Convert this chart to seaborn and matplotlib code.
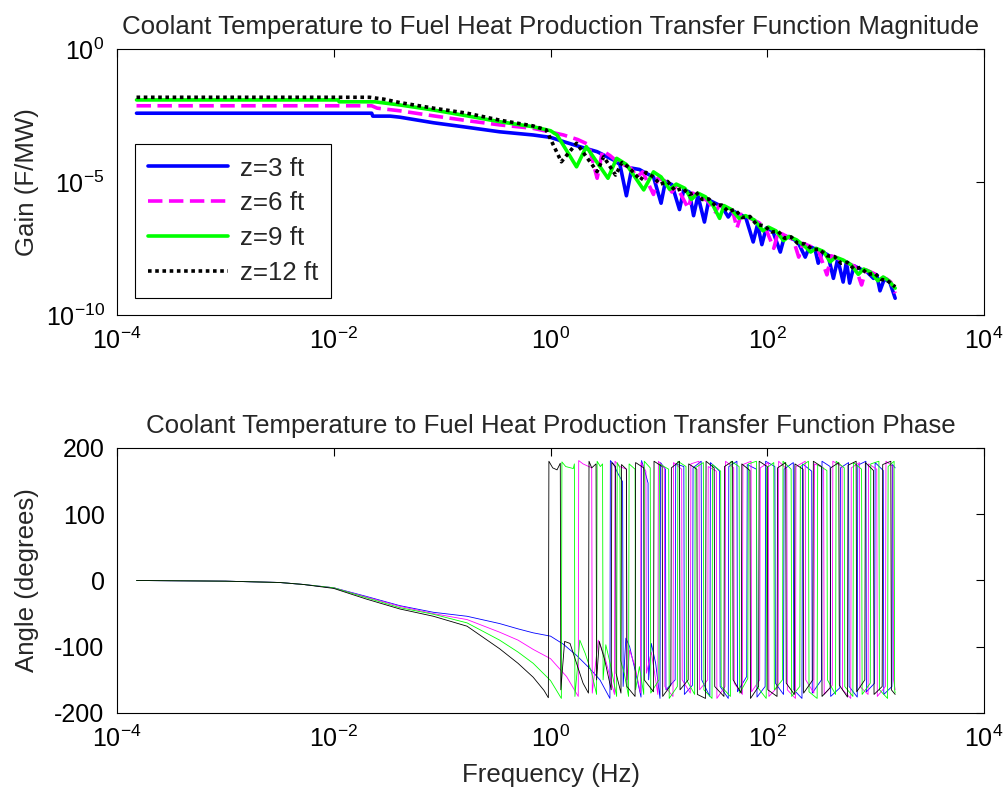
import numpy as np
import matplotlib
matplotlib.use("Agg")
import matplotlib.pyplot as plt
import seaborn as sns

# ---- magnitude data (log10 Hz, log10 F/MW) ----
mag_f_z3 = [-3.82, -1.65, -1.64, -1.48, -1.39, -1.08, -0.77, -0.47, -0.16, 0.00, 0.12, 0.27, 0.43, 0.58, 0.64,
            0.70, 0.75, 0.82, 0.88, 0.95, 1.02, 1.06, 1.12, 1.19, 1.23, 1.28, 1.32, 1.36, 1.42, 1.46, 1.52, 1.58,
            1.64, 1.68, 1.74, 1.80, 1.87, 1.91, 1.95, 1.99, 2.05, 2.12, 2.16, 2.22, 2.28, 2.35, 2.39, 2.44, 2.47,
            2.51, 2.56, 2.61, 2.65, 2.70, 2.73, 2.76, 2.80, 2.86, 2.92, 2.98, 3.01, 3.04, 3.08, 3.13, 3.18]
mag_z3 = [-2.40, -2.40, -2.51, -2.51, -2.55, -2.76, -2.93, -3.10, -3.22, -3.31, -3.47, -3.66, -3.85, -4.16, -4.33,
          -5.51, -4.47, -4.52, -4.66, -4.80, -5.79, -4.97, -5.09, -6.03, -5.27, -5.37, -6.26, -5.51, -6.50, -5.67,
          -5.79, -5.91, -6.31, -6.07, -6.21, -6.31, -7.25, -6.59, -7.35, -6.73, -6.83, -7.63, -7.02, -7.11, -7.23,
          -7.82, -7.42, -7.51, -8.05, -7.63, -7.74, -8.62, -7.89, -8.76, -8.00, -8.80, -8.15, -8.27, -8.38, -8.62,
          -8.49, -9.09, -8.64, -8.76, -9.37]

mag_f_z6 = [-3.82, -1.65, -1.60, -1.39, -1.08, -0.77, -0.47, -0.16, 0.00, 0.12, 0.25, 0.35, 0.43, 0.48, 0.55,
            0.62, 0.68, 0.74, 0.80, 0.85, 0.95, 0.99, 1.05, 1.12, 1.16, 1.27, 1.31, 1.38, 1.45, 1.52, 1.56, 1.62,
            1.68, 1.72, 1.76, 1.84, 1.92, 1.98, 2.06, 2.10, 2.18, 2.24, 2.29, 2.33, 2.40, 2.47, 2.55, 2.59, 2.66,
            2.74, 2.81, 2.87, 2.91, 2.98, 3.05, 3.10, 3.14, 3.18]
mag_z6 = [-2.12, -2.12, -2.21, -2.31, -2.50, -2.68, -2.84, -2.97, -3.11, -3.22, -3.39, -3.58, -4.85, -3.81, -4.00,
          -4.24, -4.35, -4.47, -4.80, -4.61, -5.46, -4.85, -4.94, -5.37, -5.13, -5.98, -5.41, -5.54, -5.70, -6.12,
          -5.86, -5.98, -6.07, -6.73, -6.21, -6.36, -6.52, -6.69, -7.49, -6.87, -7.04, -7.16, -7.82, -7.30, -7.42,
          -7.55, -8.49, -7.77, -7.89, -8.05, -8.17, -8.87, -8.30, -8.43, -8.57, -8.64, -8.76, -9.18]

mag_f_z9 = [-3.82, -1.96, -1.95, -1.62, -1.39, -1.08, -0.77, -0.47, -0.16, 0.00, 0.06, 0.24, 0.33, 0.53, 0.61,
            0.70, 0.86, 0.95, 1.02, 1.10, 1.16, 1.24, 1.30, 1.36, 1.43, 1.50, 1.56, 1.60, 1.67, 1.74, 1.80, 1.88,
            1.96, 2.01, 2.08, 2.15, 2.20, 2.27, 2.34, 2.40, 2.45, 2.52, 2.58, 2.63, 2.70, 2.77, 2.84, 2.89, 2.95,
            3.02, 3.07, 3.12, 3.18]
mag_z9 = [-1.90, -1.90, -1.97, -1.97, -2.09, -2.28, -2.50, -2.72, -2.91, -3.06, -3.22, -4.42, -3.66, -4.85, -4.10,
          -4.33, -5.29, -4.61, -4.80, -5.27, -5.07, -5.23, -5.65, -5.41, -5.55, -5.88, -6.36, -5.88, -6.03, -6.36,
          -6.26, -6.42, -6.83, -6.69, -6.83, -7.20, -7.04, -7.17, -7.39, -7.63, -7.49, -7.61, -8.00, -7.82, -7.93,
          -8.10, -8.47, -8.27, -8.38, -8.71, -8.57, -8.71, -8.99]

mag_f_z12 = [-3.82, -1.67, -1.54, -1.39, -1.08, -0.77, -0.47, -0.16, -0.04, 0.10, 0.24, 0.43, 0.49, 0.60, 0.66,
             0.72, 0.83, 0.88, 0.95, 1.01, 1.08, 1.15, 1.22, 1.28, 1.34, 1.40, 1.46, 1.52, 1.58, 1.64, 1.70, 1.77,
             1.84, 1.90, 1.97, 2.04, 2.10, 2.16, 2.22, 2.28, 2.35, 2.42, 2.48, 2.55, 2.62, 2.68, 2.74, 2.80, 2.86,
             2.93, 2.99, 3.05, 3.11, 3.18]
mag_z12 = [-1.80, -1.80, -1.87, -2.00, -2.21, -2.40, -2.66, -2.88, -3.03, -4.23, -3.53, -4.60, -4.04, -4.73, -4.26,
           -4.43, -4.92, -4.63, -4.80, -5.08, -4.97, -5.32, -5.23, -5.46, -5.37, -5.65, -5.63, -5.88, -5.86, -6.10,
           -6.03, -6.33, -6.29, -6.59, -6.64, -6.87, -6.85, -7.11, -7.06, -7.30, -7.33, -7.53, -7.53, -7.77, -7.80,
           -8.05, -8.02, -8.27, -8.21, -8.47, -8.43, -8.66, -8.71, -8.94]

# ---- phase data, (log10 Hz, degrees) ----
phase_z3 = [(-3.82, 0), (-3.00, -1), (-2.50, -3), (-2.28, -6), (-2.00, -11), (-1.70, -24), (-1.39, -38),
            (-1.08, -48), (-0.77, -54), (-0.47, -65), (-0.30, -73), (-0.16, -79), (0.00, -84), (0.117, -96),
            (0.24, -113), (0.363, -133), (0.456, -150), (0.548, -178), (0.552, 181), (0.58, 176), (0.62, 162),
            (0.665, 149), (0.67, -160), (0.695, -87), (0.73, -100), (0.78, -135), (0.835, -176), (0.84, 181),
            (0.87, 165), (0.90, 147), (0.905, -150), (0.93, -95), (0.97, -125), (1.01, -178), (1.015, 178),
            (1.06, 168), (1.065, -165), (1.15, -150), (1.155, 176), (1.23, 172), (1.235, -172), (1.31, -158),
            (1.315, 170), (1.39, 180), (1.395, -150), (1.47, -175), (1.475, 178), (1.56, 165), (1.565, -160),
            (1.64, -178), (1.645, 172), (1.72, 180), (1.725, -168), (1.81, -145), (1.815, 175), (1.90, 168),
            (1.905, -176), (1.98, -160), (1.985, 180), (2.07, 172), (2.075, -155), (2.15, -172), (2.155, 168),
            (2.24, 178), (2.245, -165), (2.32, -178), (2.325, 176), (2.41, 165), (2.415, -170), (2.50, -150),
            (2.505, 180), (2.58, 172), (2.585, -175), (2.67, -162), (2.675, 170), (2.75, 178), (2.755, -160),
            (2.83, -176), (2.835, 174), (2.91, 180), (2.915, -168), (2.99, -155), (2.995, 178), (3.07, 166),
            (3.075, -172), (3.15, -160), (3.155, 175), (3.18, 170)]

phase_z6 = [(-3.82, 0), (-3.00, -1), (-2.50, -3), (-2.28, -6), (-2.00, -11), (-1.70, -25), (-1.39, -39),
            (-1.08, -50), (-0.77, -59), (-0.47, -78), (-0.30, -90), (-0.16, -104), (0.00, -118), (0.148, -145),
            (0.256, -175), (0.26, 181), (0.30, 176), (0.38, 170), (0.385, -170), (0.44, -90), (0.50, -115),
            (0.59, -172), (0.595, 180), (0.64, 172), (0.70, 168), (0.705, -150), (0.73, -105), (0.78, -130),
            (0.83, -170), (0.835, 178), (0.88, 165), (0.885, -140), (0.93, -108), (0.97, -150), (0.99, -172),
            (0.995, 180), (1.05, 170), (1.055, -160), (1.13, -175), (1.135, 178), (1.21, 168), (1.215, -150),
            (1.29, -170), (1.295, 176), (1.37, 180), (1.375, -165), (1.45, -150), (1.455, 172), (1.53, 165),
            (1.535, -178), (1.61, -160), (1.615, 180), (1.69, 170), (1.695, -155), (1.77, -172), (1.775, 175),
            (1.85, 180), (1.855, -168), (1.93, -150), (1.935, 170), (2.01, 178), (2.015, -175), (2.10, -160),
            (2.105, 180), (2.18, 168), (2.185, -165), (2.26, -178), (2.265, 172), (2.35, 180), (2.355, -150),
            (2.43, -170), (2.435, 176), (2.52, 170), (2.525, -172), (2.60, -158), (2.605, 180), (2.69, 172),
            (2.695, -165), (2.77, -178), (2.775, 170), (2.85, 178), (2.855, -160), (2.93, -172), (2.935, 176),
            (3.01, 168), (3.015, -175), (3.09, -160), (3.095, 180), (3.16, 172), (3.165, -150), (3.18, -165)]

phase_z9 = [(-3.82, 0), (-3.00, -1), (-2.50, -3), (-2.28, -6), (-2.00, -11), (-1.70, -26), (-1.39, -41),
            (-1.08, -51), (-0.77, -64), (-0.47, -90), (-0.30, -108), (-0.16, -125), (0.00, -151), (0.10, -178),
            (0.105, 179), (0.14, 172), (0.21, 169), (0.22, 176), (0.225, -175), (0.27, -90), (0.32, -110),
            (0.38, -140), (0.425, -172), (0.43, 180), (0.46, 172), (0.48, 176), (0.485, -150), (0.51, -97),
            (0.55, -125), (0.61, -175), (0.615, 178), (0.64, 170), (0.645, -120), (0.68, -140), (0.72, -175),
            (0.725, 176), (0.78, 168), (0.785, -165), (0.82, -130), (0.86, -172), (0.865, 180), (0.92, 170),
            (0.925, -170), (1.00, -150), (1.005, 176), (1.09, 168), (1.095, -178), (1.17, -160), (1.175, 180),
            (1.25, 172), (1.255, -150), (1.33, -172), (1.335, 170), (1.41, 178), (1.415, -165), (1.49, -178),
            (1.495, 175), (1.57, 165), (1.575, -160), (1.66, -175), (1.665, 180), (1.74, 172), (1.745, -170),
            (1.82, -148), (1.825, 176), (1.90, 180), (1.905, -160), (1.99, -178), (1.995, 170), (2.06, 178),
            (2.065, -165), (2.14, -150), (2.145, 180), (2.22, 168), (2.225, -175), (2.30, -160), (2.305, 172),
            (2.38, 180), (2.385, -168), (2.46, -178), (2.465, 175), (2.55, 166), (2.555, -150), (2.63, -172),
            (2.635, 180), (2.71, 170), (2.715, -160), (2.79, -175), (2.795, 178), (2.87, 168), (2.875, -172),
            (2.95, -155), (2.955, 176), (3.03, 180), (3.035, -165), (3.11, -178), (3.115, 172), (3.17, 180),
            (3.175, -165), (3.18, -170)]

phase_z12 = [(-3.82, 0), (-3.00, -1), (-2.50, -3), (-2.28, -6), (-2.00, -12), (-1.70, -28), (-1.39, -43),
             (-1.08, -54), (-0.77, -69), (-0.47, -103), (-0.30, -125), (-0.16, -146), (-0.06, -166), (-0.02, -177),
             (-0.015, 180), (0.02, 170), (0.06, 167), (0.09, 177), (0.095, -165), (0.13, -92), (0.18, -95),
             (0.24, -125), (0.30, -155), (0.35, -170), (0.355, 180), (0.38, 170), (0.42, 176), (0.425, -150),
             (0.45, -92), (0.50, -120), (0.56, -165), (0.565, 178), (0.60, 172), (0.605, -140), (0.65, -170),
             (0.655, 175), (0.70, 168), (0.705, -160), (0.78, -175), (0.785, 178), (0.86, 170), (0.865, -150),
             (0.95, -168), (0.955, 180), (1.03, 172), (1.035, -175), (1.11, -158), (1.115, 170), (1.19, 180),
             (1.195, -165), (1.27, -150), (1.275, 176), (1.35, 168), (1.355, -172), (1.43, -178), (1.435, 180),
             (1.51, 170), (1.515, -160), (1.60, -175), (1.605, 172), (1.68, 180), (1.685, -150), (1.76, -170),
             (1.765, 176), (1.84, 166), (1.845, -178), (1.92, -160), (1.925, 180), (2.00, 172), (2.005, -165),
             (2.09, -175), (2.095, 170), (2.17, 178), (2.175, -155), (2.25, -172), (2.255, 176), (2.33, 168),
             (2.335, -170), (2.42, -150), (2.425, 180), (2.50, 172), (2.505, -175), (2.58, -162), (2.585, 170),
             (2.66, 178), (2.665, -158), (2.74, -176), (2.745, 174), (2.82, 180), (2.825, -168), (2.90, -150),
             (2.905, 178), (2.98, 166), (2.985, -172), (3.06, -160), (3.065, 175), (3.14, 180), (3.145, -165),
             (3.18, -172)]

labels = ['z=3 ft', 'z=6 ft', 'z=9 ft', 'z=12 ft']
colors = ['#0000ff', '#ff00ff', '#00ff00', '#000000']
styles = ['-', (0, (4, 1.8)), '-', (0, (1, 1))]

x_ticks = [1e-4, 1e-2, 1e0, 1e2, 1e4]
x_ticklabels = ['$10^{-4}$', '$10^{-2}$', '$10^{0}$', '$10^{2}$', '$10^{4}$']

sns.set_style('white')
plt.rcParams['font.family'] = ['Liberation Sans', 'DejaVu Sans']
plt.rcParams['mathtext.fontset'] = 'custom'
plt.rcParams['mathtext.rm'] = 'Liberation Sans'
plt.rcParams['mathtext.it'] = 'Liberation Sans:italic'
plt.rcParams['mathtext.bf'] = 'Liberation Sans:bold'
plt.rcParams['mathtext.default'] = 'regular'
plt.rcParams['axes.unicode_minus'] = False

FS = 18
TFS = 18.6


def style_axes(ax):
    for sp in ax.spines.values():
        sp.set_visible(True)
        sp.set_color('black')
        sp.set_linewidth(0.8)
    ax.tick_params(which='major', direction='in', length=6, width=0.8, top=True, right=True,
                   labelsize=FS, colors='black', pad=9)
    ax.tick_params(which='minor', length=0)
    ax.set_xscale('log')
    ax.set_xlim(1e-4, 1e4)
    ax.set_xticks(x_ticks)
    ax.set_xticklabels(x_ticklabels)
    ax.minorticks_off()


fig = plt.figure(figsize=(10.07, 7.97), dpi=100)
ax1 = fig.add_axes([0.1162, 0.6048, 0.861, 0.3331])
ax2 = fig.add_axes([0.1162, 0.1054, 0.861, 0.3325])

# magnitude
mag_sets = [(mag_f_z3, mag_z3), (mag_f_z6, mag_z6), (mag_f_z9, mag_z9), (mag_f_z12, mag_z12)]
for (lf, lg), lab, c, ls in zip(mag_sets, labels, colors, styles):
    sns.lineplot(x=np.power(10.0, lf), y=np.power(10.0, lg), ax=ax1, color=c, lw=2.6,
                 linestyle=ls, sort=False, estimator=None, label=lab)
ax1.set_yscale('log')
style_axes(ax1)
ax1.set_ylim(1e-10, 1e0)
ax1.set_yticks([1e-10, 1e-5, 1e0])
ax1.set_yticklabels(['$10^{-10}$', '$10^{-5}$', '$10^{0}$'])
ax1.minorticks_off()
ax1.set_title('Coolant Temperature to Fuel Heat Production Transfer Function Magnitude', fontsize=TFS, pad=11)
ax1.set_ylabel('Gain (F/MW)', fontsize=TFS)
ax1.yaxis.set_label_coords(-0.09, 0.5)
leg = ax1.legend(loc='lower left', bbox_to_anchor=(0.0208, 0.064), borderaxespad=0, frameon=True,
                 fancybox=False, edgecolor='black', framealpha=1, handlelength=3.1, fontsize=TFS,
                 labelspacing=0.42, borderpad=0.5, handletextpad=0.45)
leg.get_frame().set_linewidth(0.8)

# phase
for pairs, c in zip([phase_z3, phase_z6, phase_z9, phase_z12], colors):
    arr = np.array(pairs, dtype=float)
    sns.lineplot(x=np.power(10.0, arr[:, 0]), y=arr[:, 1], ax=ax2, color=c, lw=0.6,
                 sort=False, estimator=None)
style_axes(ax2)
ax2.set_ylim(-200, 200)
ax2.set_yticks([-200, -100, 0, 100, 200])
ax2.set_title('Coolant Temperature to Fuel Heat Production Transfer Function Phase', fontsize=TFS, pad=11)
ax2.set_ylabel('Angle (degrees)', fontsize=TFS)
ax2.yaxis.set_label_coords(-0.09, 0.5)
ax2.set_xlabel('Frequency (Hz)', fontsize=TFS)
ax2.xaxis.set_label_coords(0.5, -0.19)

fig.savefig('out.png', dpi=100, facecolor='white')
